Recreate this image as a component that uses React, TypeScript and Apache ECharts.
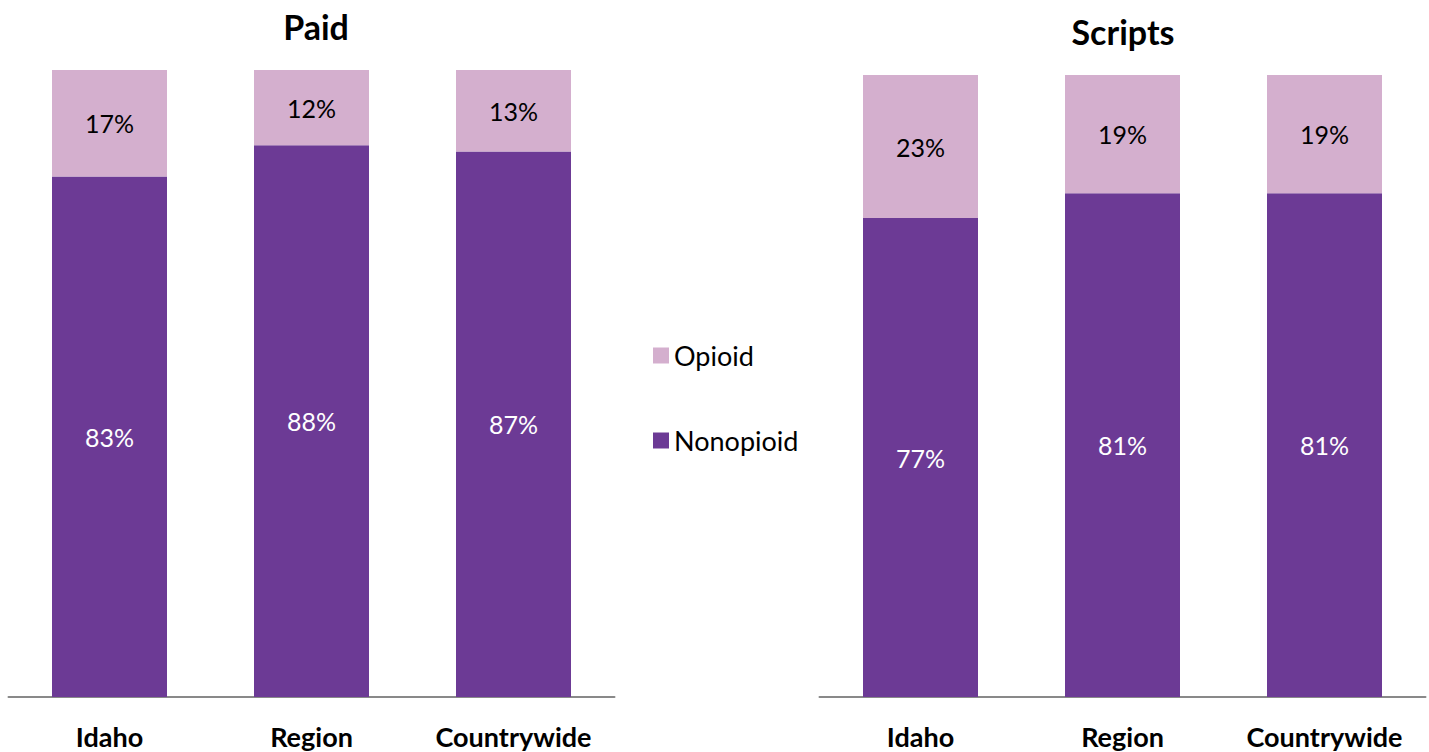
import React, { useEffect, useRef } from "react";
import * as echarts from "echarts";

const categories = ["Idaho", "Region", "Countrywide"];
const paidNonopioid = [83, 88, 87];
const paidOpioid = [17, 12, 13];
const scriptsNonopioid = [77, 81, 81];
const scriptsOpioid = [23, 19, 19];
const titles = ["Paid", "Scripts"];

const DARK = "#6C3A95";
const LIGHT = "#D4AFCE";
const FONT = "Lato, 'Open Sans', sans-serif";

export default function App() {
  const ref = useRef<HTMLDivElement>(null);
  useEffect(() => {
    document.body.style.margin = "0";
    const chart = echarts.init(ref.current!, null, { renderer: "svg" });
    const label = (color: string) => ({
      show: true,
      position: "inside",
      color,
      fontSize: 25,
      fontFamily: FONT,
      formatter: (p: any) => `${p.value}%`,
    });
    const xAxis = (gridIndex: number) => ({
      type: "category",
      gridIndex,
      data: categories,
      axisTick: { show: false },
      axisLine: { lineStyle: { color: "#898989", width: 2 } },
      axisLabel: {
        interval: 0,
        hideOverlap: false,
        color: "#000",
        fontSize: 27,
        fontWeight: "bold",
        fontFamily: FONT,
        margin: 26,
      },
    });
    const yAxis = (gridIndex: number) => ({
      type: "value",
      gridIndex,
      min: 0,
      max: 100,
      show: false,
      splitLine: { show: false },
    });
    const bar = (name: string, data: number[], idx: number, color: string, labelColor: string) => ({
      name,
      type: "bar",
      stack: "s" + idx,
      xAxisIndex: idx,
      yAxisIndex: idx,
      data,
      barWidth: 115,
      itemStyle: { color },
      label: label(labelColor),
    });
    chart.setOption({
      animation: false,
      backgroundColor: "#fff",
      title: [
        {
          text: titles[0],
          left: 311,
          top: 4,
          textAlign: "center",
          textStyle: { fontSize: 34, fontWeight: "bold", fontFamily: FONT, color: "#000" },
        },
        {
          text: titles[1],
          left: 1118,
          top: 9,
          textAlign: "center",
          textStyle: { fontSize: 34, fontWeight: "bold", fontFamily: FONT, color: "#000" },
        },
      ],
      legend: {
        orient: "vertical",
        left: 648,
        top: 337,
        itemWidth: 16,
        itemHeight: 16,
        itemGap: 58,
        icon: "rect",
        data: ["Opioid", "Nonopioid"],
        textStyle: { fontSize: 27, fontFamily: FONT, color: "#000", padding: [0, 0, 0, 0] },
      },
      grid: [
        { left: 8.5, width: 606, top: 70, bottom: 55 },
        { left: 819.5, width: 606, top: 75, bottom: 55 },
      ],
      xAxis: [xAxis(0), xAxis(1)],
      yAxis: [yAxis(0), yAxis(1)],
      series: [
        bar("Nonopioid", paidNonopioid, 0, DARK, "#fff"),
        bar("Opioid", paidOpioid, 0, LIGHT, "#000"),
        bar("Nonopioid", scriptsNonopioid, 1, DARK, "#fff"),
        bar("Opioid", scriptsOpioid, 1, LIGHT, "#000"),
      ],
    });
    return () => chart.dispose();
  }, []);
  return <div ref={ref} style={{ width: 1429, height: 752 }} />;
}
